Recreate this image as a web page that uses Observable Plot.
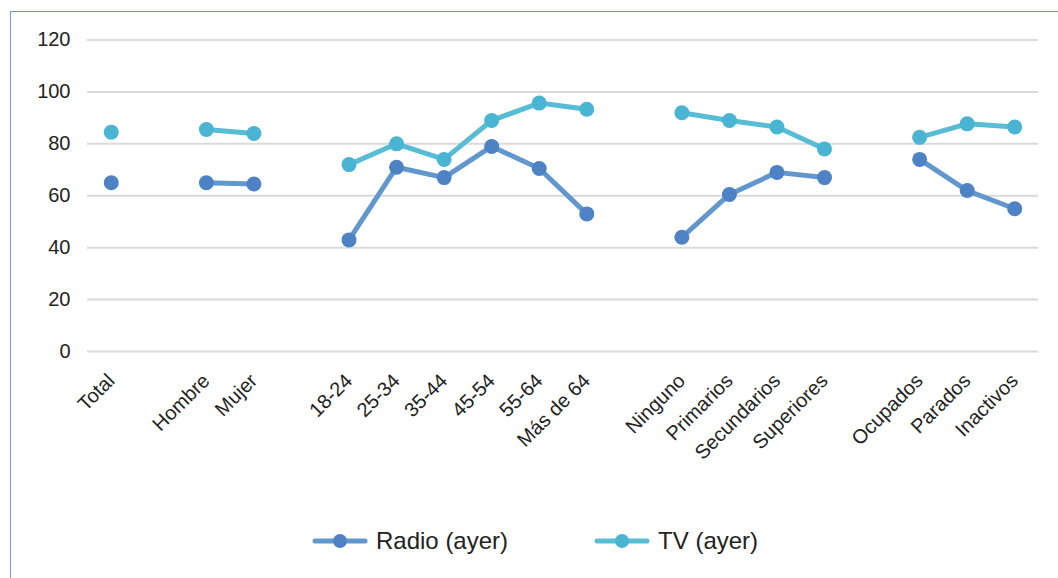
<!DOCTYPE html>
<html>
<head>
<meta charset="utf-8">
<script src="https://cdn.jsdelivr.net/npm/d3@7"></script>
<script src="https://cdn.jsdelivr.net/npm/@observablehq/plot@0.6"></script>
<style>
  body { margin: 0; background: #fff; }
  #wrap { position: relative; width: 1058px; height: 578px; overflow: hidden;
          font-family: "Liberation Sans", Arial, sans-serif; color: #222; }
  #frame { position: absolute; left: 10px; top: 11px; width: 1100px; height: 640px;
           border: 1.5px solid #7598c9; box-sizing: border-box; }
  #chart { position: absolute; left: 0; top: 0; }
  #legend { position: absolute; top: 527px; left: 312px; display: flex; gap: 86px;
            align-items: center; font-size: 24px; height: 28px; }
  .item { display: flex; align-items: center; gap: 8px; }
  .item svg { display: block; }
</style>
</head>
<body>
<div id="wrap">
  <div id="frame"></div>
  <div id="chart"></div>
  <div id="legend"></div>
</div>
<script>
// Slots along the x axis; null marks an empty slot separating the groups
const categories = ["Total", null, "Hombre", "Mujer", null,
  "18-24", "25-34", "35-44", "45-54", "55-64", "Más de 64", null,
  "Ninguno", "Primarios", "Secundarios", "Superiores", null,
  "Ocupados", "Parados", "Inactivos"];

const radio = [65, null, 65, 64.5, null,
  43, 71, 67, 79, 70.5, 53, null,
  44, 60.5, 69, 67, null,
  74, 62, 55];

const tv = [84.5, null, 85.5, 84, null,
  72, 80, 74, 89, 95.7, 93.3, null,
  92, 89, 86.5, 78, null,
  82.5, 87.7, 86.5];

const yTicks = [0, 20, 40, 60, 80, 100, 120];

const seriesNames = ["Radio (ayer)", "TV (ayer)"];
const lineColors = ["#6197cd", "#58bcd5"];
const dotColors = ["#4d83c5", "#4ab4d3"];

// Unique keys for the point scale; empty slots get hidden placeholder keys
const keys = categories.map((c, i) => c ?? `__gap${i}`);
const labels = categories.filter(c => c);
const rows = keys.map((k, i) => ({key: k, radio: radio[i], tv: tv[i]}));

const font = '"Liberation Sans", Arial, sans-serif';

const chart = Plot.plot({
  width: 1058,
  height: 470,
  marginLeft: 87,
  marginRight: 20,
  marginTop: 39.5,
  marginBottom: 119,
  style: {fontFamily: font, color: "#222", background: "transparent"},
  x: {type: "point", domain: keys, padding: 0.5, round: false, label: null},
  y: {domain: [0, 120], label: null},
  marks: [
    Plot.ruleY(yTicks, {stroke: "#dadada", strokeWidth: 2}),
    Plot.axisY({ticks: yTicks, tickSize: 0, tickPadding: 17, fontSize: 20, label: null}),
    Plot.axisX({ticks: labels, tickSize: 0, tickRotate: -45, tickPadding: 26,
                textAnchor: "end", dx: 0, fontSize: 20, label: null}),
    Plot.line(rows, {x: "key", y: "radio", stroke: lineColors[0], strokeWidth: 5,
                     strokeLinejoin: "round", strokeLinecap: "round"}),
    Plot.line(rows, {x: "key", y: "tv", stroke: lineColors[1], strokeWidth: 5,
                     strokeLinejoin: "round", strokeLinecap: "round"}),
    Plot.dot(rows, {x: "key", y: "radio", r: 7.5, fill: dotColors[0]}),
    Plot.dot(rows, {x: "key", y: "tv", r: 7.5, fill: dotColors[1]})
  ]
});
document.getElementById("chart").append(chart);

// Legend below the chart
const legend = d3.select("#legend");
seriesNames.forEach((name, i) => {
  const item = legend.append("div").attr("class", "item");
  const sw = item.append("svg").attr("width", 56).attr("height", 18);
  sw.append("line").attr("x1", 3).attr("x2", 53).attr("y1", 9).attr("y2", 9)
    .attr("stroke", lineColors[i]).attr("stroke-width", 5).attr("stroke-linecap", "round");
  sw.append("circle").attr("cx", 28).attr("cy", 9).attr("r", 7).attr("fill", dotColors[i]);
  item.append("span").text(name);
});
</script>
</body>
</html>
